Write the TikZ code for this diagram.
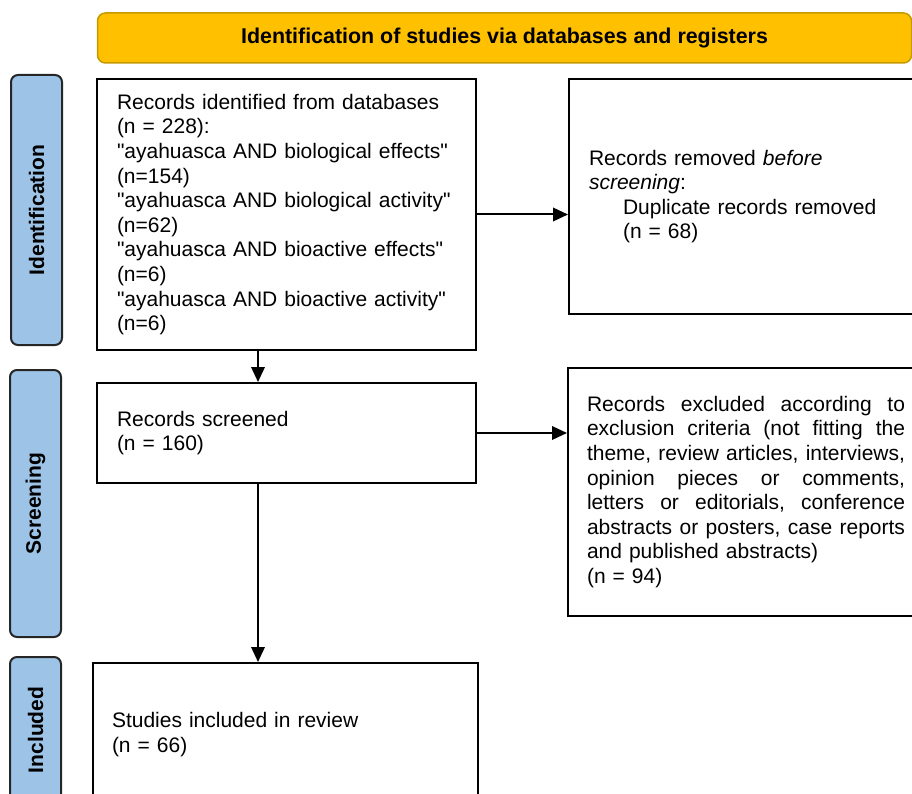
\documentclass[tikz,border=0pt]{standalone}
\usepackage{fontspec}
\setmainfont[Ligatures=TeXOff]{Liberation Sans}
\usetikzlibrary{arrows.meta}
\definecolor{gold}{HTML}{FFC000}
\definecolor{goldline}{HTML}{C49A00}
\definecolor{phasefill}{HTML}{9DC3E6}
\newcommand{\gp}{\hspace{0pt plus 1fil}}
\newcommand{\jline}[1]{\leavevmode\hbox to 318pt{#1}}
\begin{document}
\begin{tikzpicture}[x=1pt,y=-1pt,
  txt/.style={font=\fontsize{21}{24.6}\selectfont},
  box/.style={txt, draw=black, line width=2pt, fill=white, align=left, inner ysep=0pt},
  phase/.style={draw=black!85, line width=2pt, fill=phasefill, rounded corners=7pt,
    rotate=90, minimum height=51pt, inner sep=0pt, font=\fontsize{21}{24.6}\selectfont\bfseries},
  banner/.style={draw=goldline, line width=1.5pt, fill=gold, rounded corners=8pt,
    minimum width=814pt, minimum height=50pt, font=\fontsize{21.4}{24.6}\selectfont\bfseries},
  arr/.style={line width=2pt, -{Triangle[length=15pt,width=13.5pt]}}]
\useasboundingbox (0,0) rectangle (912,794);

\node[banner] (hdr) at (504.5,38) {Identification of studies via databases and registers};

\node[phase, minimum width=270pt] (pid) at (36.5,210) {Identification};
\node[phase, minimum width=267pt] (psc) at (35.5,503.5) {Screening};
\node[phase, minimum width=146pt] (pin) at (35.5,730) {Included};

\node[box, text width=339pt, inner xsep=20pt, minimum height=271pt] (db) at (286.5,214.5)
 {Records identified from databases\\(n = 228):\\"ayahuasca AND biological effects"\\(n=154)\\"ayahuasca AND biological activity"\\(n=62)\\"ayahuasca AND bioactive effects"\\(n=6)\\"ayahuasca AND bioactive activity"\\(n=6)};

\node[box, text width=318pt, inner xsep=20pt, minimum height=235pt] (rem) at (748,196.5)
 {Records removed \textit{before}\\\textit{screening}:\\\hspace*{34pt}Duplicate records removed\\\hspace*{34pt}(n = 68)};

\node[box, text width=339pt, inner xsep=20pt, minimum height=100pt] (scr) at (286.5,433)
 {Records screened\\(n = 160)};

\node[box, text width=318pt, inner xsep=19pt, minimum height=248pt] (exc) at (746,492)
 {\jline{Records\gp excluded\gp according\gp to}\\
  \jline{exclusion\gp criteria\gp (not\gp fitting\gp the}\\
  \jline{theme,\gp review\gp articles,\gp interviews,}\\
  \jline{opinion\gp pieces\gp or\gp comments,}\\
  \jline{letters\gp or\gp editorials,\gp conference}\\
  \jline{abstracts\gp or\gp posters,\gp case\gp reports}\\
  and published abstracts)\\(n = 94)};

\node[box, text width=347pt, inner xsep=19pt, minimum height=143pt] (inc) at (285.5,734.5)
 {Studies included in review\\(n = 66)};

\coordinate (ax) at (258,0);
\draw[arr] (db.east) -- (db.east -| rem.west);
\draw[arr] (scr.east) -- (scr.east -| exc.west);
\draw[arr] (db.south -| ax) -- (scr.north -| ax);
\draw[arr] (scr.south -| ax) -- (inc.north -| ax);
\end{tikzpicture}
\end{document}
